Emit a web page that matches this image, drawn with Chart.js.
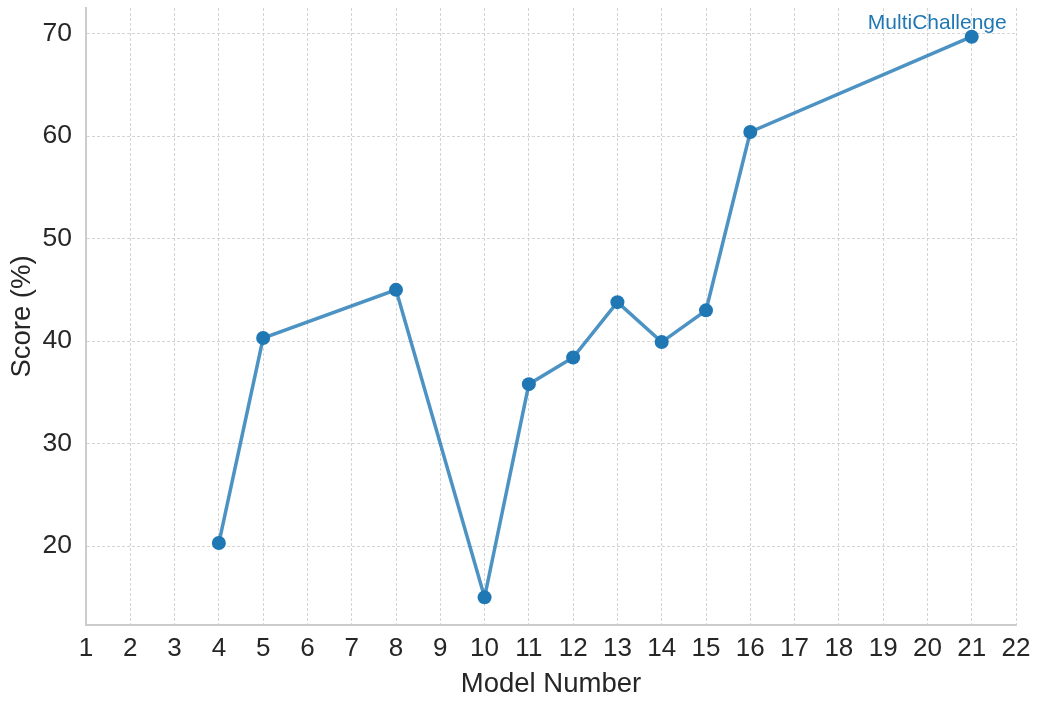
<!DOCTYPE html>
<html>
<head>
<meta charset="utf-8">
<script src="https://cdn.jsdelivr.net/npm/chart.js@4"></script>
<style>
  html, body { margin: 0; padding: 0; background: #fff; }
  #wrap { width: 1041px; height: 706px; }
</style>
</head>
<body>
<div id="wrap"><canvas id="chart1" width="1041" height="706"></canvas></div>
<script>
const modelNumbers = [4, 5, 8, 10, 11, 12, 13, 14, 15, 16, 21];
const scores = [20.3, 40.3, 45.0, 15.0, 35.8, 38.4, 43.8, 39.9, 43.0, 60.4, 69.7];
const seriesName = 'MultiChallenge';
const xTicks = [1, 22];
const yTicks = [20, 30, 40, 50, 60, 70];

const font = "'Liberation Sans', Arial, sans-serif";

const labelPlugin = {
    id: 'seriesLabel',
    afterDatasetsDraw(chart) {
        const meta = chart.getDatasetMeta(0);
        const last = meta.data[meta.data.length - 1];
        const ctx = chart.ctx;
        ctx.save();
        ctx.font = '21px ' + font;
        ctx.fillStyle = '#1f77b4';
        ctx.textAlign = 'right';
        ctx.textBaseline = 'middle';
        ctx.fillText(seriesName, last.x + 35, last.y - 13);
        ctx.restore();
    }
};

(function() {
    const chart = document.getElementById('chart1');

    const data = {
        datasets: [{
            label: seriesName,
            data: modelNumbers.map((m, i) => ({ x: m, y: scores[i] })),
            borderColor: 'rgba(31, 119, 180, 0.8)',
            borderWidth: 3.5,
            pointBackgroundColor: '#1f77b4',
            pointBorderColor: '#1f77b4',
            pointRadius: 7,
            pointBorderWidth: 0,
            tension: 0
        }]
    };

    const config = {
        type: 'line',
        data: data,
        options: {
            responsive: false,
            animation: false,
            layout: { padding: { top: 8, right: 25, left: 0, bottom: 0 } },
            plugins: { legend: { display: false }, tooltip: { enabled: false } },
            scales: {
                x: {
                    type: 'linear',
                    min: xTicks[0],
                    max: xTicks[1],
                    afterFit: (s) => { s.height = 81; },
                    ticks: { stepSize: 1, color: '#262626', font: { family: font, size: 26 }, padding: 8 },
                    grid: { color: '#cfcfcf', lineWidth: 0.9, drawTicks: false },
                    border: { color: '#cccccc', width: 2, dash: [3, 2] },
                    title: { display: true, text: 'Model Number', color: '#262626', font: { family: font, size: 27.5 }, padding: { top: 0, bottom: 5 } }
                },
                y: {
                    min: 12.3,
                    max: 72.5,
                    afterBuildTicks: (s) => { s.ticks = yTicks.map(v => ({ value: v })); },
                    afterFit: (s) => { s.width = 86; s.paddingTop = 0; s.paddingBottom = 0; },
                    ticks: { color: '#262626', font: { family: font, size: 26.5 }, padding: 14 },
                    grid: { color: '#cfcfcf', lineWidth: 0.9, drawTicks: false },
                    border: { color: '#cccccc', width: 2, dash: [3, 2] },
                    title: { display: true, text: 'Score (%)', color: '#262626', font: { family: font, size: 27.5 }, padding: { top: 6, bottom: 4 } }
                }
            }
        },
        plugins: [labelPlugin]
    };

    new Chart(chart, config);
})();
</script>
</body>
</html>
